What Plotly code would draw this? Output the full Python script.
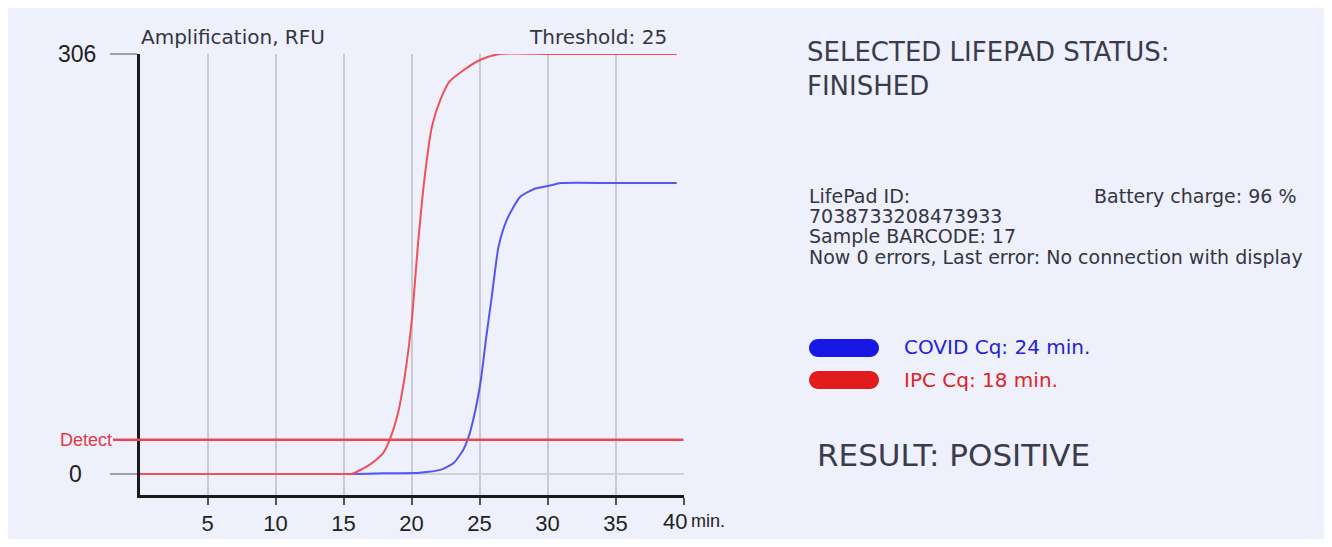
import plotly.graph_objects as go

# ---------------- data ----------------
minutes_covid = [0, 5, 10, 15.6, 18.0, 20.6, 22.1, 23.1, 23.8, 24.2, 24.7, 25.1, 25.5, 25.9, 26.4, 27.0, 28.0, 29.1, 30.1, 31.0, 35.0, 39.5]
rfu_covid = [0, 0, 0, 0, 0.5, 1, 3, 8, 17.5, 27, 46.6, 68.5, 100, 129, 165.6, 185, 202, 208, 210, 212, 212, 212]

minutes_ipc = [0, 5, 10, 15.0, 15.6, 16.9, 17.9, 18.4, 19.0, 19.5, 20.0, 20.5, 21.0, 21.5, 22.1, 22.8, 23.8, 25.1, 26.5, 30.0, 35.0, 39.5]
rfu_ipc = [0, 0, 0, 0, 0, 6.6, 15, 25, 44, 71, 110, 170, 219, 253, 272, 286, 294, 302, 306, 306, 306, 306]

x_ticks = [5, 10, 15, 20, 25, 30, 35, 40]
x_tick_labels = ["5", "10", "15", "20", "25", "30", "35", "40"]
x_unit = "min."
y_ticks = [0, 306]
y_tick_labels = ["0", "306"]
detect_level = 25
x_range = [0, 40]
y_range = [-15.3, 306]

series_names = ["COVID", "IPC"]
series_colors = ["#5555f2", "#f0505a"]
legend_colors = ["#1818e4", "#e21c1c"]
legend_text_colors = ["#2222d6", "#e02424"]
cq_values = [24, 18]

status = "FINISHED"
lifepad_id = "7038733208473933"
battery_charge = 96
sample_barcode = 17
errors_now = 0
last_error = "No connection with display"
result = "POSITIVE"

# ---------------- layout helpers ----------------
# the page body keeps its default 8px margin, so the figure sits at (8, 8)
OFF = 8
W, H = 1316, 531


def px(x):
    return (x - OFF) / W


def py(y):
    return 1 - (y - OFF) / H


BG = "#eef0fb"
TXT = "#3a3c4e"
MAIN_FONT = "DejaVu Sans"
NUM_FONT = "Liberation Sans, Arial, sans-serif"

fig = go.Figure()

for name, xs, ys, col in [
    (series_names[0], minutes_covid, rfu_covid, series_colors[0]),
    (series_names[1], minutes_ipc, rfu_ipc, series_colors[1]),
]:
    fig.add_trace(go.Scatter(
        x=xs, y=ys, mode="lines", name=name,
        line=dict(color=col, width=2, shape="spline", smoothing=0.6),
        hoverinfo="skip", showlegend=False,
    ))

shapes = []
# detect threshold line
shapes.append(dict(type="line", xref="paper", yref="y", x0=px(113), x1=px(683.5), y0=detect_level, y1=detect_level,
                   line=dict(color="#f04652", width=2.5), layer="above"))


def pill(x0, y0, x1, y1, color):
    r = (y1 - y0) / 2
    k = 0.5523 * r
    yc = (y0 + y1) / 2

    def p(x, y):
        return f"{px(x):.5f},{py(y):.5f}"

    path = (f"M {p(x0 + r, y0)} L {p(x1 - r, y0)} "
            f"C {p(x1 - r + k, y0)} {p(x1, yc - k)} {p(x1, yc)} "
            f"C {p(x1, yc + k)} {p(x1 - r + k, y1)} {p(x1 - r, y1)} "
            f"L {p(x0 + r, y1)} "
            f"C {p(x0 + r - k, y1)} {p(x0, yc + k)} {p(x0, yc)} "
            f"C {p(x0, yc - k)} {p(x0 + r - k, y0)} {p(x0 + r, y0)} Z")
    return dict(type="path", xref="paper", yref="paper", path=path, fillcolor=color, line=dict(width=0))


shapes.append(pill(809, 339, 879, 357, legend_colors[0]))
shapes.append(pill(809, 371, 879, 389, legend_colors[1]))

ann = []


def text(x, y, s, size, color=TXT, family=MAIN_FONT, xanchor="left", yref="paper", align="left"):
    ann.append(dict(x=px(x), y=(py(y) if yref == "paper" else y), xref="paper", yref=yref, text=s,
                    showarrow=False, xanchor=xanchor, yanchor="middle", align=align,
                    font=dict(family=family, size=size, color=color)))


# chart texts
text(139, 37, "Amplification, RFU", 20, "#35363f")
text(669, 37, f"Threshold: {detect_level}", 20, "#35363f", xanchor="right")
text(98, y_ticks[1], y_tick_labels[1], 23, "#222222", NUM_FONT, "right", yref="y")
text(84, y_ticks[0], y_tick_labels[0], 23, "#222222", NUM_FONT, "right", yref="y")
text(114, detect_level, "Detect", 18, "#e53945", NUM_FONT, "right", yref="y")
# last x tick label sits left of its tick, followed by the unit
text(675, 521, x_tick_labels[-1], 22, "#222222", NUM_FONT, "center")
text(689, 521, x_unit, 18, "#222222", NUM_FONT)

# right panel
text(805, 69.5, f"SELECTED LIFEPAD STATUS:<br>{status}", 26)
text(807, 196, "LifePad ID:", 19, "#35363f")
text(1092, 196, f"Battery charge: {battery_charge} %", 19, "#35363f")
text(807, 216, lifepad_id, 19, "#35363f")
text(807, 236, f"Sample BARCODE: {sample_barcode}", 19, "#35363f")
text(807, 257, f"Now {errors_now} errors, Last error: {last_error}", 19, "#35363f")
text(902, 347, f"{series_names[0]} Cq: {cq_values[0]} min.", 20, legend_text_colors[0])
text(902, 380, f"{series_names[1]} Cq: {cq_values[1]} min.", 20, legend_text_colors[1])
text(815, 455, f"RESULT: {result}", 31)

fig.update_layout(
    width=W, height=H,
    autosize=False,
    margin=dict(l=0, r=0, t=0, b=0),
    paper_bgcolor=BG,
    plot_bgcolor="rgba(0,0,0,0)",
    shapes=shapes,
    annotations=ann,
    showlegend=False,
    xaxis=dict(
        domain=[px(139.5), px(683.5)], range=x_range, fixedrange=True,
        tickmode="array", tickvals=x_ticks, ticktext=x_tick_labels[:-1] + [""],
        ticks="outside", ticklen=7, tickwidth=1.5, tickcolor="#555555",
        tickfont=dict(family=NUM_FONT, size=22, color="#222222"),
        showgrid=True, gridcolor="#c9cbd4", gridwidth=1.8,
        showline=True, linecolor="#1a1a1a", linewidth=3,
        zeroline=False,
    ),
    yaxis=dict(
        domain=[py(495), py(54)], range=y_range, fixedrange=True,
        tickmode="array", tickvals=y_ticks, ticktext=y_tick_labels,
        ticks="outside", ticklen=27, tickwidth=1.5, tickcolor="#a0a0a8",
        showticklabels=False,
        showgrid=True, gridcolor="#cfd1da", gridwidth=1.5,
        showline=True, linecolor="#1a1a1a", linewidth=3,
        zeroline=False,
    ),
)

fig.write_html("out.html", config={"displayModeBar": False, "responsive": False})
